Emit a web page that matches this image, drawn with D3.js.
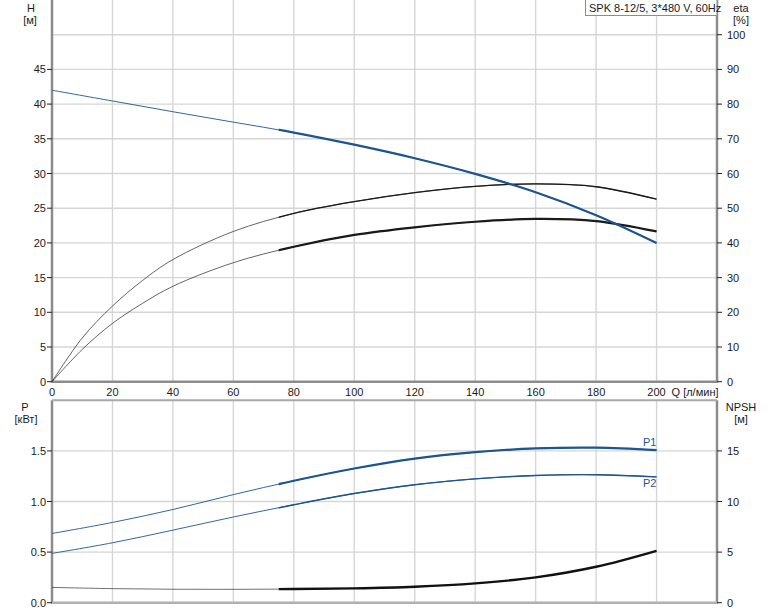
<!DOCTYPE html>
<html><head><meta charset="utf-8">
<script src="https://cdn.jsdelivr.net/npm/d3@7"></script>
<style>body{margin:0;background:#fff}svg{display:block}text{font-family:"Liberation Sans",Arial,sans-serif;font-size:11px;fill:#1a1a1a}</style>
</head><body>
<script>
// ---- data ----
const title = "SPK 8-12/5, 3*480 V, 60Hz";
const qH = [0,20,40,60,80,100,120,140,160,180,200];
const H  = [42.0,40.45,38.9,37.4,35.9,34.15,32.2,29.95,27.3,24.0,20.0];
const qEta = [0,10,20,30,40,60,80,100,120,140,160,180,200];
const eta1 = [0,12.6,21.8,29.2,35.2,43.3,48.5,51.9,54.5,56.3,57.0,56.2,52.6];
const eta2 = [0,9.3,16.8,22.6,27.5,34.3,38.9,42.3,44.5,46.1,46.9,46.3,43.3];
const qP = [0,20,40,60,80,100,120,140,160,180,200];
const P1 = [0.684,0.793,0.921,1.068,1.205,1.326,1.424,1.487,1.524,1.532,1.507];
const P2 = [0.487,0.592,0.717,0.847,0.968,1.079,1.166,1.224,1.257,1.265,1.243];
const qN = [0,20,40,60,80,100,120,140,160,180,200];
const NPSH = [1.51,1.39,1.33,1.32,1.35,1.42,1.58,1.91,2.5,3.55,5.13];
const qTicks = [0,20,40,60,80,100,120,140,160,180,200];
const hTicks = [0,5,10,15,20,25,30,35,40,45];
const etaTicks = [0,10,20,30,40,50,60,70,80,90,100];
const pTicks = [0,0.5,1.0,1.5];
const nTicks = [0,5,10,15];
const qOpStart = 75, qOpEnd = 200;

const W=774,Hh=611;
const svg=d3.select("body").append("svg").attr("width",W).attr("height",Hh);
const L=52,R=717;
const x=d3.scaleLinear().domain([0,220]).range([L,R]);
const yH=d3.scaleLinear().domain([0,55]).range([381.7,0]);
const yEta=d3.scaleLinear().domain([0,110]).range([381.7,0]);
const yP=d3.scaleLinear().domain([0,2]).range([602.7,400.3]);
const yN=d3.scaleLinear().domain([0,20]).range([602.7,400.3]);

const grid="#d6d6d6";
const defs=svg.append("defs");
defs.append("clipPath").attr("id","op").append("rect")
  .attr("x",x(qOpStart)).attr("y",0).attr("width",x(qOpEnd)-x(qOpStart)+2).attr("height",Hh);

const g=svg.append("g");
qTicks.filter(d=>d>0).forEach(d=>{
  g.append("line").attr("x1",x(d)).attr("x2",x(d)).attr("y1",0).attr("y2",yH(0)).attr("stroke",grid).attr("stroke-width",1.4);
  g.append("line").attr("x1",x(d)).attr("x2",x(d)).attr("y1",yP(2)).attr("y2",yP(0)).attr("stroke",grid).attr("stroke-width",1.4);
});
d3.range(5,55,5).forEach(d=>{
  g.append("line").attr("x1",L).attr("x2",R).attr("y1",yH(d)).attr("y2",yH(d)).attr("stroke",grid).attr("stroke-width",1.4);
});
pTicks.filter(d=>d>0).forEach(d=>{
  g.append("line").attr("x1",L).attr("x2",R).attr("y1",yP(d)).attr("y2",yP(d)).attr("stroke",grid).attr("stroke-width",1.4);
});

const ax="#8c8c8c";
svg.append("line").attr("x1",L).attr("x2",L).attr("y1",0).attr("y2",yH(0)+1).attr("stroke",ax).attr("stroke-width",2.5);
svg.append("line").attr("x1",R).attr("x2",R).attr("y1",0).attr("y2",yH(0)+1).attr("stroke",ax).attr("stroke-width",2.5);
svg.append("line").attr("x1",L).attr("x2",R).attr("y1",yH(0)).attr("y2",yH(0)).attr("stroke",ax).attr("stroke-width",2.5);
svg.append("line").attr("x1",L).attr("x2",L).attr("y1",yP(2)).attr("y2",yP(0)+1).attr("stroke",ax).attr("stroke-width",2.5);
svg.append("line").attr("x1",R).attr("x2",R).attr("y1",yP(2)).attr("y2",yP(0)+1).attr("stroke",ax).attr("stroke-width",2.5);
svg.append("line").attr("x1",L).attr("x2",R).attr("y1",yP(2)).attr("y2",yP(2)).attr("stroke","#a8a8a8").attr("stroke-width",2);
svg.append("line").attr("x1",L).attr("x2",R).attr("y1",yP(0)).attr("y2",yP(0)).attr("stroke","#b0b0b0").attr("stroke-width",2.5);

const tick=(x1,x2,y)=>svg.append("line").attr("x1",x1).attr("x2",x2).attr("y1",y).attr("y2",y).attr("stroke","#222").attr("stroke-width",1);
hTicks.forEach(d=>{tick(L-5,L,yH(d));svg.append("text").attr("x",L-6).attr("y",yH(d)+4).attr("text-anchor","end").text(d);});
etaTicks.forEach(d=>{tick(R,R+5,yEta(d));svg.append("text").attr("x",R+10).attr("y",yEta(d)+4).text(d);});
pTicks.forEach(d=>{tick(L-5,L,yP(d));svg.append("text").attr("x",L-6).attr("y",yP(d)+4).attr("text-anchor","end").text(d3.format(".1f")(d));});
nTicks.forEach(d=>{tick(R,R+5,yN(d));svg.append("text").attr("x",R+10).attr("y",yN(d)+4).text(d);});
qTicks.forEach(d=>{svg.append("text").attr("x",x(d)).attr("y",yH(0)+14).attr("text-anchor","middle").text(d);});
svg.append("text").attr("x",x(200)+15).attr("y",yH(0)+14).text("Q [л/мин]");

const ul=(t,xx,yy)=>svg.append("text").attr("x",xx).attr("y",yy).attr("text-anchor","middle").text(t);
ul("H",31,12);ul("[м]",30,24);
ul("eta",741,12);ul("[%]",741,24);
ul("P",25,411);ul("[кВт]",26,423);
ul("NPSH",741,411);ul("[м]",741,423);

const tb=svg.append("g");
tb.append("rect").attr("x",585.5).attr("y",-1).attr("width",R-585.5).attr("height",16.5)
  .attr("fill","#fff").attr("stroke","#8c8c8c").attr("stroke-width",1);
tb.append("text").attr("x",589).attr("y",11.5).text(title);

const blue="#1d5591";
function curve(qs,vs,ys,color,thin,thick){
  const line=d3.line().x((d,i)=>x(qs[i])).y((d,i)=>ys(vs[i])).curve(d3.curveCatmullRom.alpha(0.5));
  svg.append("path").attr("d",line(vs)).attr("fill","none").attr("stroke",color).attr("stroke-width",thin.w).attr("stroke-opacity",thin.o);
  svg.append("path").attr("d",line(vs)).attr("fill","none").attr("stroke",color).attr("stroke-width",thick).attr("clip-path","url(#op)");
}
curve(qEta,eta1,yEta,"#1a1a1a",{w:0.9,o:0.75},1.4);
curve(qEta,eta2,yEta,"#1a1a1a",{w:0.9,o:0.75},2.2);
curve(qH,H,yH,blue,{w:1,o:0.9},2.2);
curve(qP,P1,yP,blue,{w:1,o:0.9},2.2);
curve(qP,P2,yP,blue,{w:1,o:0.9},1.4);
curve(qN,NPSH,yN,"#111",{w:1,o:0.6},2.4);

svg.append("text").attr("x",643).attr("y",446).style("fill",blue).text("P1");
svg.append("text").attr("x",643).attr("y",487).style("fill",blue).text("P2");
</script>
</body></html>
